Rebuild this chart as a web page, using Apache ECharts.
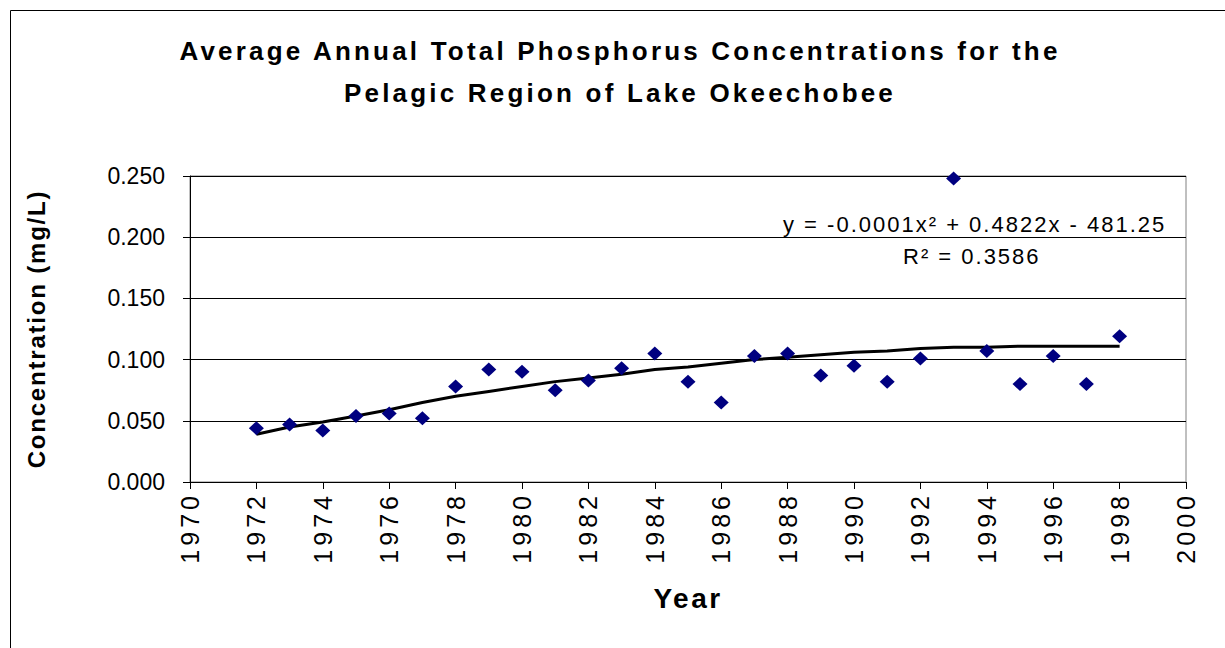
<!DOCTYPE html>
<html>
<head>
<meta charset="utf-8">
<style>html,body{margin:0;padding:0;background:#fff;}#c{width:1225px;height:648px;}</style>
<script src="https://cdn.jsdelivr.net/npm/echarts@6/dist/echarts.min.js"></script>
</head>
<body>
<div id="c"></div>
<script>
const years = [1972,1973,1974,1975,1976,1977,1978,1979,1980,1981,1982,1983,1984,1985,1986,1987,1988,1989,1990,1991,1992,1993,1994,1995,1996,1997,1998];
const concentration = [0.044,0.047,0.042,0.054,0.056,0.052,0.078,0.092,0.090,0.075,0.083,0.093,0.105,0.082,0.065,0.103,0.105,0.087,0.095,0.082,0.101,0.248,0.107,0.080,0.103,0.080,0.119];
const trend = [0.039,0.045,0.049,0.054,0.059,0.065,0.070,0.074,0.078,0.082,0.085,0.088,0.092,0.094,0.097,0.100,0.102,0.104,0.106,0.107,0.109,0.110,0.110,0.111,0.111,0.111,0.111];
const titleLines = ['Average Annual Total Phosphorus Concentrations for the','Pelagic Region of Lake Okeechobee'];
const equationLines = ['y = -0.0001x\u00B2 + 0.4822x - 481.25', 'R\u00B2 = 0.3586'];
const xName = 'Year';
const yName = 'Concentration (mg/L)';

const chart = echarts.init(document.getElementById('c'), null, {renderer: 'svg'});
const font = 'Liberation Sans, Arial, sans-serif';
chart.setOption({
  backgroundColor: '#fff',
  animation: false,
  grid: {left: 190, right: 39, top: 176, bottom: 166, show: true, borderColor: '#808080', borderWidth: 1},
  xAxis: {
    type: 'value', min: 1970, max: 2000, interval: 2,
    name: xName, nameLocation: 'middle', nameGap: 102,
    nameTextStyle: {fontFamily: font, fontSize: 28, fontWeight: 'bold', color: '#000'},
    axisLine: {lineStyle: {color: '#000', width: 1}},
    axisTick: {show: true, length: 7, lineStyle: {color: '#000'}},
    splitLine: {show: false},
    axisLabel: {rotate: 90, fontFamily: font, fontSize: 25, color: '#000', margin: 10, formatter: v => String(v)}
  },
  yAxis: {
    type: 'value', min: 0, max: 0.25, interval: 0.05,
    name: yName, nameLocation: 'middle', nameGap: 142,
    nameTextStyle: {fontFamily: font, fontSize: 24, fontWeight: 'bold', color: '#000'},
    axisLine: {show: true, lineStyle: {color: '#000', width: 1}},
    axisTick: {show: true, length: 7, inside: false, lineStyle: {color: '#000'}},
    splitLine: {show: true, lineStyle: {color: '#000', width: 1}},
    axisLabel: {fontFamily: font, fontSize: 23, color: '#000', margin: 25, formatter: v => v.toFixed(3)}
  },
  series: [
    {
      type: 'line', data: years.map((y, i) => [y, trend[i]]),
      showSymbol: false, smooth: false, z: 3,
      lineStyle: {color: '#000', width: 3}
    },
    {
      type: 'scatter', data: years.map((y, i) => [y, concentration[i]]),
      symbol: 'diamond', symbolSize: [15, 14], z: 4,
      itemStyle: {color: '#000080', opacity: 1}
    }
  ],
  graphic: [
    {type: 'rect', shape: {x: 10.5, y: 10.5, width: 1240, height: 660}, style: {fill: null, stroke: '#000', lineWidth: 1}, silent: true},
    {type: 'text', x: 620, y: 51, style: {text: titleLines[0], fontFamily: font, fontSize: 26, fontWeight: 'bold', fill: '#000', textAlign: 'center', textVerticalAlign: 'middle'}},
    {type: 'text', x: 620, y: 93, style: {text: titleLines[1], fontFamily: font, fontSize: 26, fontWeight: 'bold', fill: '#000', textAlign: 'center', textVerticalAlign: 'middle'}},
    {type: 'text', x: 783, y: 224, style: {text: equationLines[0], fontFamily: font, fontSize: 22, fill: '#000', textAlign: 'left', textVerticalAlign: 'middle'}},
    {type: 'text', x: 903, y: 256, style: {text: equationLines[1], fontFamily: font, fontSize: 22, fill: '#000', textAlign: 'left', textVerticalAlign: 'middle'}}
  ]
});

const spacing = {};
spacing[titleLines[0]] = 3.2;
spacing[titleLines[1]] = 3.2;
spacing[yName] = 1.8;
spacing[xName] = 2.5;
spacing[equationLines[0]] = 2;
spacing[equationLines[1]] = 2;
function applySpacing() {
  document.querySelectorAll('#c svg text').forEach(t => {
    const txt = t.textContent;
    let s = spacing[txt];
    if (!s && /^(19|20)\d\d$/.test(txt)) s = 4;
    if (s) t.style.letterSpacing = s + 'px';
  });
}
applySpacing();
chart.on('finished', applySpacing);
setTimeout(applySpacing, 0);
setTimeout(applySpacing, 200);
</script>
</body>
</html>
